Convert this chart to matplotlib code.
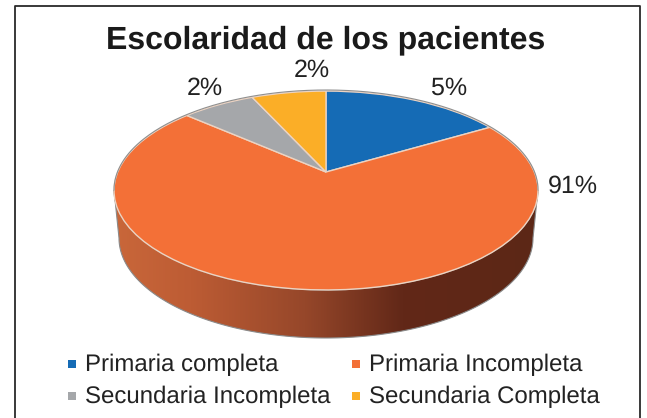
import numpy as np
import matplotlib
matplotlib.use("Agg")
import matplotlib.pyplot as plt
from matplotlib.colors import LinearSegmentedColormap
from matplotlib.patches import Polygon, Rectangle
from matplotlib.transforms import Transform

plt.rcParams['font.family'] = ['Liberation Sans', 'DejaVu Sans']
plt.rcParams['text.hinting'] = 'no_hinting'
plt.rcParams['text.hinting_factor'] = 1

title = "Escolaridad de los pacientes"
categories = ["Primaria completa", "Primaria Incompleta",
              "Secundaria Incompleta", "Secundaria Completa"]
# slice sizes as drawn in the picture (the printed labels do not match them)
shares = [16.5, 70.0, 6.7, 6.8]
labels = ["5%", "91%", "2%", "2%"]
colors = ["#156bb5", "#f37037", "#a5a7aa", "#fbae27"]

W, H = 647, 418
apex = (326, 172)
# perspective of the pie plate, in pixels
A, S, P = 208.3, 96.0, 0.186


class Plate(Transform):
    # unit circle -> pixels, tilted plate seen in perspective
    input_dims = output_dims = 2

    def transform_non_affine(self, values):
        x, y = values[:, 0], values[:, 1]
        w = 1 + P * y
        return np.column_stack([apex[0] + A * x / w, apex[1] - S * y / w])


fig = plt.figure(figsize=(W / 100, H / 100), dpi=100)
ax = fig.add_axes([0, 0, 1, 1])

# side wall, front half of the plate pushed down
t = np.linspace(np.pi, 2 * np.pi, 200)
top_x, top_y = 326 + 212 * np.cos(t), 190 - 100 * np.sin(t)
low_x, low_y = 326 + 207 * np.cos(t), 238 - 100 * np.sin(t)
wall = Polygon(np.column_stack([np.r_[top_x, low_x[::-1]], np.r_[top_y, low_y[::-1]]]),
               closed=True, transform=ax.transData, fc="none", ec="#8a8a8a", lw=0.8, zorder=2)
ax.add_patch(wall)
wall_cmap = LinearSegmentedColormap.from_list(
    "wall", [(0, "#c9673a"), (0.18, "#bd5c34"), (0.45, "#96472a"),
             (0.68, "#622818"), (1, "#5c2716")])
grad = ax.imshow(np.linspace(0, 1, 256)[None, :], cmap=wall_cmap, aspect="auto",
                 extent=(114, 538, 345, 190), zorder=1)
grad.set_clip_path(wall)

# top face
wedges, _ = ax.pie(shares, colors=colors, startangle=90, counterclock=False, radius=1,
                   wedgeprops={"edgecolor": "#ecd3c2", "linewidth": 1.0, "zorder": 3})
plate = Plate()
for wd in wedges:
    wd.set_transform(plate + ax.transData)

# grey rim on the back half
t = np.linspace(0, np.pi, 200)
ax.plot(326 + 212 * np.cos(t), 190 - 100 * np.sin(t), color="#8f8f8f", lw=0.8, zorder=4)

ax.set_xlim(0, W)
ax.set_ylim(H, 0)
ax.set_aspect("auto")
ax.axis("off")

# frame, runs off the bottom of the picture
ax.plot([15, 15, 640, 640], [H + 5, 6, 6, H + 5], color="#2a2a2a", lw=1.3, zorder=5)

ax.text(326, 48, title, ha="center", va="baseline", fontsize=22.8, fontweight="bold", color="#1a1a1a")

label_pos = [(449, 95), (573, 193), (205, 95), (312, 77)]
for s, (x, y) in zip(labels, label_pos):
    ax.text(x, y, s, ha="center", va="baseline", fontsize=18, color="#222222")

legend_pos = [(68, 364), (352, 364), (68, 396), (352, 396)]
for name, c, (x, y) in zip(categories, colors, legend_pos):
    ax.add_patch(Rectangle((x, y - 4), 8, 8, fc=c, ec="none", zorder=5))
    ax.text(x + 17, y + 7, name, ha="left", va="baseline", fontsize=17.2, color="#222222")

fig.savefig("out.png", dpi=100)
